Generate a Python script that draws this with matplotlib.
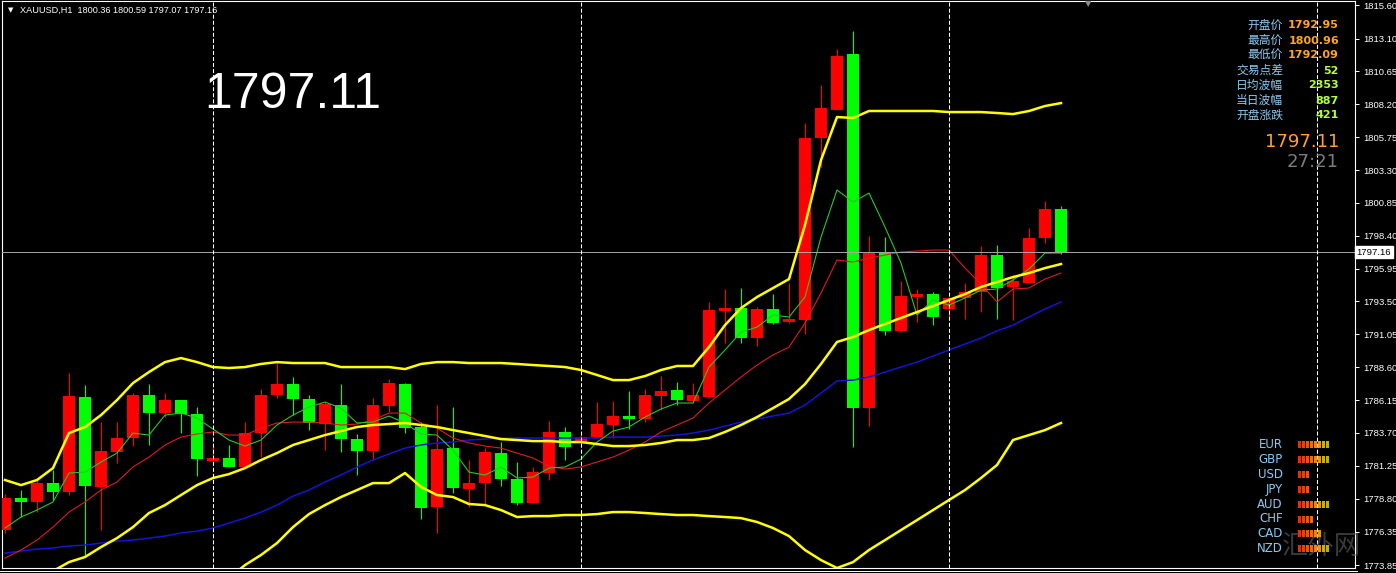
import matplotlib
matplotlib.use('Agg')
import matplotlib.pyplot as plt
import numpy as np
from matplotlib.patches import Rectangle
from matplotlib.lines import Line2D
from matplotlib import font_manager

plt.rcParams['lines.scale_dashes'] = False

# ---------------- data ----------------
opens = [1776.46, 1778.84, 1778.55, 1779.96, 1779.29, 1786.37, 1779.67, 1782.27, 1783.32, 1786.52,
         1785.18, 1786.15, 1785.11, 1781.60, 1781.83, 1781.16, 1783.69, 1786.52, 1787.34, 1786.23,
         1784.36, 1785.78, 1783.24, 1782.35, 1785.70, 1787.34, 1784.14, 1778.17, 1782.57, 1779.52,
         1779.96, 1782.20, 1780.26, 1778.47, 1780.71, 1783.77, 1782.95, 1783.39, 1784.29, 1784.96,
         1784.73, 1786.45, 1786.90, 1786.08, 1786.37, 1792.79, 1793.01, 1790.77, 1792.94, 1791.97,
         1792.12, 1805.68, 1807.77, 1811.95, 1785.55, 1797.11, 1791.30, 1793.83, 1794.05, 1792.95,
         1793.76, 1794.20, 1796.96, 1794.58, 1794.87, 1798.23, 1800.36]
highs = [1779.14, 1779.44, 1780.19, 1780.93, 1788.16, 1787.27, 1784.51, 1784.51, 1786.67, 1787.34,
         1786.67, 1786.15, 1785.63, 1782.80, 1782.80, 1784.51, 1786.97, 1788.98, 1787.87, 1786.52,
         1786.00, 1787.34, 1783.62, 1786.30, 1787.72, 1787.42, 1784.51, 1785.78, 1785.63, 1781.68,
         1782.57, 1783.02, 1781.53, 1781.16, 1784.59, 1784.14, 1783.77, 1786.00, 1786.08, 1786.82,
         1786.97, 1787.94, 1787.49, 1787.42, 1793.46, 1794.43, 1794.50, 1793.08, 1794.05, 1794.87,
         1806.80, 1809.64, 1812.32, 1813.66, 1798.38, 1798.30, 1795.02, 1794.43, 1794.20, 1793.83,
         1794.87, 1797.63, 1797.71, 1795.47, 1798.97, 1800.96, 1800.59]
lows = [1776.24, 1777.43, 1777.80, 1778.70, 1779.07, 1774.45, 1776.46, 1781.45, 1782.72, 1782.80,
        1784.88, 1783.69, 1780.48, 1781.60, 1781.16, 1781.08, 1781.90, 1786.30, 1785.03, 1783.91,
        1782.42, 1782.27, 1780.56, 1781.68, 1785.26, 1783.69, 1777.28, 1776.24, 1779.22, 1778.17,
        1778.40, 1779.74, 1778.32, 1778.47, 1780.19, 1781.68, 1782.72, 1783.32, 1783.32, 1783.99,
        1784.51, 1785.41, 1785.78, 1785.93, 1786.30, 1790.40, 1790.40, 1790.18, 1791.82, 1791.89,
        1791.07, 1803.52, 1807.77, 1782.65, 1784.21, 1791.00, 1791.22, 1791.97, 1791.74, 1792.09,
        1792.19, 1792.71, 1792.19, 1792.09, 1794.87, 1797.86, 1797.07]
closes = [1778.84, 1778.55, 1779.96, 1779.29, 1786.45, 1779.74, 1782.35, 1783.32, 1786.52, 1785.18,
          1786.15, 1785.11, 1781.75, 1781.83, 1781.16, 1783.69, 1786.52, 1787.34, 1786.23, 1784.44,
          1785.85, 1783.24, 1782.35, 1785.78, 1787.42, 1784.06, 1778.10, 1782.50, 1779.59, 1779.96,
          1782.27, 1780.26, 1778.47, 1780.78, 1783.77, 1782.65, 1783.39, 1784.36, 1784.96, 1784.73,
          1786.52, 1786.82, 1786.15, 1786.52, 1792.86, 1793.01, 1790.77, 1792.94, 1791.89, 1792.19,
          1805.68, 1807.92, 1811.80, 1785.55, 1797.11, 1791.30, 1793.90, 1794.05, 1792.34, 1793.76,
          1794.20, 1796.96, 1794.50, 1795.02, 1798.23, 1800.39, 1797.16]

bb_upper = [1780.19, 1779.81, 1780.19, 1781.08, 1783.69, 1784.14, 1785.03, 1786.15, 1787.42, 1788.24,
            1788.98, 1789.28, 1788.98, 1788.61, 1788.54, 1788.61, 1788.84, 1788.98, 1788.91, 1788.91,
            1788.91, 1788.61, 1788.61, 1788.61, 1788.61, 1788.46, 1788.84, 1788.98, 1788.98, 1788.91,
            1788.91, 1788.91, 1788.84, 1788.76, 1788.69, 1788.61, 1788.39, 1788.02, 1787.64, 1787.64,
            1787.94, 1788.39, 1788.69, 1788.69, 1790.10, 1791.74, 1793.01, 1793.83, 1794.50, 1795.17,
            1799.20, 1804.04, 1807.25, 1807.18, 1807.70, 1807.70, 1807.70, 1807.70, 1807.70, 1807.62,
            1807.62, 1807.62, 1807.55, 1807.47, 1807.70, 1808.07, 1808.29]
bb_middle = [1771.39, 1772.13, 1772.73, 1773.40, 1774.07, 1774.45, 1775.19, 1775.86, 1776.68, 1777.73,
             1778.32, 1779.07, 1779.81, 1780.34, 1780.63, 1781.08, 1781.68, 1782.20, 1782.80, 1783.17,
             1783.54, 1783.84, 1784.14, 1784.29, 1784.36, 1784.44, 1784.29, 1784.14, 1783.91, 1783.69,
             1783.47, 1783.24, 1783.17, 1783.09, 1783.09, 1783.02, 1783.02, 1782.87, 1782.72, 1782.72,
             1782.80, 1782.95, 1783.17, 1783.17, 1783.32, 1783.77, 1784.29, 1784.88, 1785.55, 1786.23,
             1787.34, 1788.84, 1790.48, 1790.85, 1791.37, 1791.82, 1792.27, 1792.71, 1793.16, 1793.61,
             1794.05, 1794.58, 1794.95, 1795.32, 1795.62, 1795.99, 1796.29]
bb_lower_first = 13
bb_lower = [1771.84, 1772.88, 1773.85, 1774.60, 1775.49, 1776.68, 1777.65, 1778.32, 1778.92, 1779.44,
            1779.96, 1779.96, 1780.71, 1779.67, 1779.07, 1778.92, 1778.40, 1778.32, 1777.95, 1777.43,
            1777.50, 1777.50, 1777.58, 1777.58, 1777.65, 1777.80, 1777.80, 1777.73, 1777.65, 1777.58,
            1777.58, 1777.50, 1777.43, 1777.35, 1777.06, 1776.61, 1776.01, 1774.97, 1774.22, 1773.63,
            1774.07, 1774.97, 1775.71, 1776.46, 1777.20, 1777.95, 1778.70, 1779.44, 1780.34, 1781.31,
            1783.17, 1783.54, 1783.91, 1784.44]
ma_fast = [1776.61, 1777.43, 1777.95, 1778.55, 1780.71, 1780.78, 1781.53, 1782.20, 1783.69, 1783.54,
           1785.03, 1785.18, 1784.81, 1783.99, 1783.17, 1782.72, 1783.17, 1784.29, 1785.03, 1785.63,
           1786.00, 1785.55, 1784.44, 1784.51, 1784.96, 1784.44, 1783.62, 1783.54, 1782.42, 1780.78,
           1780.56, 1781.16, 1780.34, 1780.41, 1781.08, 1781.16, 1781.75, 1783.02, 1783.84, 1784.14,
           1784.88, 1785.48, 1785.93, 1785.93, 1788.61, 1789.88, 1791.22, 1791.59, 1792.49, 1792.34,
           1793.83, 1798.30, 1801.81, 1800.91, 1801.58, 1799.05, 1796.36, 1792.49, 1793.61, 1793.23,
           1793.76, 1794.35, 1794.43, 1795.10, 1795.92, 1797.11, 1797.11]
ma_slow = [1774.37, 1774.97, 1775.71, 1776.68, 1777.80, 1778.55, 1779.44, 1780.04, 1781.16, 1781.90,
           1782.80, 1783.39, 1783.62, 1783.77, 1783.54, 1783.54, 1784.06, 1784.44, 1784.51, 1784.51,
           1784.44, 1784.29, 1784.36, 1784.66, 1785.18, 1785.18, 1784.44, 1784.06, 1783.32, 1782.95,
           1782.72, 1782.57, 1782.20, 1781.83, 1781.23, 1781.01, 1781.16, 1781.53, 1781.90, 1782.42,
           1783.02, 1783.77, 1784.29, 1784.81, 1785.93, 1786.90, 1787.87, 1788.76, 1789.51, 1790.10,
           1791.89, 1794.13, 1796.59, 1796.44, 1796.74, 1796.96, 1797.19, 1797.26, 1797.33, 1797.33,
           1795.99, 1794.80, 1793.46, 1794.43, 1794.50, 1795.17, 1795.62]
ma_long = [1774.74, 1774.89, 1775.04, 1775.12, 1775.27, 1775.34, 1775.49, 1775.64, 1775.71, 1775.86,
           1776.01, 1776.24, 1776.38, 1776.61, 1776.98, 1777.35, 1777.80, 1778.32, 1778.99, 1779.44,
           1780.04, 1780.56, 1781.16, 1781.68, 1782.13, 1782.57, 1782.80, 1782.95, 1783.02, 1783.17,
           1783.24, 1783.32, 1783.32, 1783.32, 1783.32, 1783.32, 1783.32, 1783.32, 1783.39, 1783.39,
           1783.39, 1783.47, 1783.54, 1783.69, 1783.91, 1784.21, 1784.51, 1784.73, 1784.96, 1785.18,
           1785.78, 1786.67, 1787.57, 1787.64, 1787.87, 1788.24, 1788.61, 1788.98, 1789.43, 1789.88,
           1790.33, 1790.77, 1791.30, 1791.74, 1792.34, 1792.94, 1793.46]

y_ticks = [1815.60, 1813.10, 1810.65, 1808.20, 1805.75, 1803.30, 1800.85, 1798.40, 1795.95,
           1793.50, 1791.05, 1788.60, 1786.15, 1783.70, 1781.25, 1778.80, 1776.35, 1773.85]
day_separators = [13, 36, 59, 82]
last_price = 1797.16
header = "XAUUSD,H1  1800.36 1800.59 1797.07 1797.16"
big_price = "1797.11"
info_labels = ['开盘价', '最高价', '最低价', '交易点差', '日均波幅', '当日波幅', '开盘涨跌']
info_values = ['1792.95', '1800.96', '1792.09', '52', '2353', '887', '421']
info_colors = ['#ffa526', '#ffa526', '#ffa526', '#b4ff3c', '#b4ff3c', '#b4ff3c', '#b4ff3c']
bid_text = '1797.11'
timer_text = '27:21'
currencies = ['EUR', 'GBP', 'USD', 'JPY', 'AUD', 'CHF', 'CAD', 'NZD']
strength = [8, 8, 3, 3, 8, 4, 6, 8]
bar_colors = ['#ff2400', '#ff3600', '#ff4c00', '#ff6400', '#ff7e00', '#f29600', '#cdb000', '#bcb400']
watermark = '汇外网'

# ---------------- figure ----------------
W, H = 1396, 573
fig = plt.figure(figsize=(W / 100, H / 100), dpi=100, facecolor='black')
ax = fig.add_axes([2 / W, 5 / H, 1353 / W, 567 / H], facecolor='black')
ax.set_xlim(-0.1875, 84.375)
ax.set_ylim(1773.63, 1815.90)

n = len(closes)
xs = np.arange(n)
o = np.array(opens); c = np.array(closes); h = np.array(highs); l = np.array(lows)
up = c >= o
cols = np.where(up, '#ff0000', '#00ff00')
ax.vlines(xs, l, h, colors=cols, lw=0.8, zorder=2)
bottoms = np.minimum(o, c)
heights = np.maximum(np.abs(c - o), 0.08)
ax.bar(xs, heights, bottom=bottoms, width=0.69, color=cols, linewidth=0, zorder=3)

# indicators
ax.plot(xs, ma_long, color='#1414d8', lw=1.1, zorder=4)
ax.plot(xs, ma_slow, color='#dd1c1c', lw=0.8, zorder=5)
ax.plot(xs, ma_fast, color='#26c826', lw=0.8, zorder=5)
ax.plot(xs, bb_upper, color='#ffff00', lw=1.8, zorder=6)
ax.plot(xs, bb_middle, color='#ffff00', lw=1.8, zorder=6)
ax.plot(np.arange(bb_lower_first, bb_lower_first + len(bb_lower)), bb_lower,
        color='#ffff00', lw=1.8, zorder=6)

for s in day_separators:
    ax.axvline(s, color='white', lw=0.75, ls=(0, (2.9, 1.45)), zorder=7)

ax.axhline(last_price, color='#a8a8a8', lw=0.7, zorder=5)

# axes styling
for sp in ax.spines.values():
    sp.set_color('white')
    sp.set_linewidth(0.8)
ax.set_xticks([])
ax.yaxis.tick_right()
ax.set_yticks(y_ticks)
ax.set_yticklabels([f"{v:.2f}" for v in y_ticks])
ax.tick_params(axis='y', direction='out', length=3, width=0.7, color='white',
               labelcolor='white', labelsize=6.8, pad=3)
for t in ax.get_yticklabels():
    t.set_fontfamily('Liberation Sans')

ax.text(1.0012, last_price, f"{last_price:.2f}", transform=ax.get_yaxis_transform(),
        ha='left', va='center', fontsize=6.8, family='Liberation Sans', color='black',
        bbox=dict(boxstyle='square,pad=0.15', fc='white', ec='white'), zorder=10, clip_on=False)

fig.add_artist(Line2D([0, 1357 / W], [1 - 570.5 / H] * 2, color='white', lw=0.7,
                      transform=fig.transFigure))

def fx(px):
    return px / W

def fy(py):
    return 1 - py / H

# header
fig.text(fx(8), fy(10), '▼', color='white', fontsize=5, va='center', ha='left', family='DejaVu Sans')
fig.text(fx(20), fy(10), header, color='white', fontsize=6.6, va='center', ha='left',
         family='Liberation Sans')
fig.text(fx(1088), fy(4), '▼', color='#8c8c8c', fontsize=6, va='center', ha='center',
         family='DejaVu Sans')

# big price
names = {f.name for f in font_manager.fontManager.ttflist}
if 'Liberation Sans Narrow' in names:
    fig.text(fx(204), fy(95), big_price, color='white', fontsize=43, va='center', ha='left',
             family='Liberation Sans Narrow')
else:
    fig.text(fx(204), fy(95), big_price, color='white', fontsize=36, va='center', ha='left',
             family='Liberation Sans')

# info panel
for k, (lab, val, vc) in enumerate(zip(info_labels, info_values, info_colors)):
    yy = 25.5 + 15 * k
    fig.text(fx(1283), fy(yy), lab, color='#8cc8f0', fontsize=8.5, va='center', ha='right',
             family=['Noto Sans CJK SC', 'DejaVu Sans'])
    fig.text(fx(1339), fy(yy), val, color=vc, fontsize=8, va='center', ha='right',
             family='DejaVu Sans', weight='bold')
fig.text(fx(1339), fy(142), bid_text, color='#ffa030', fontsize=13, va='center', ha='right',
         family='DejaVu Sans')
fig.text(fx(1339), fy(162), timer_text, color='#7c7c7c', fontsize=13, va='center', ha='right',
         family='DejaVu Sans')

# watermark (behind the strength panel)
fig.text(fx(1321), fy(546), watermark, color='#6a6a6a', alpha=0.55, fontsize=19, va='center',
         ha='center', family=['Noto Sans CJK SC', 'DejaVu Sans'], zorder=0.5)

# currency strength panel
for k, (cur, cnt) in enumerate(zip(currencies, strength)):
    yy = 444.5 + 14.9 * k
    fig.text(fx(1283), fy(yy), cur, color='#8cc8f0', fontsize=8.5, va='center', ha='right',
             family='DejaVu Sans')
    for b in range(cnt):
        x0 = 1298 + 4 * b
        fig.add_artist(Rectangle((fx(x0), fy(yy + 3.5)), 3 / W, 7 / H, transform=fig.transFigure,
                                 facecolor=bar_colors[b], edgecolor='none'))

fig.savefig('out.png', dpi=100, facecolor='black')
